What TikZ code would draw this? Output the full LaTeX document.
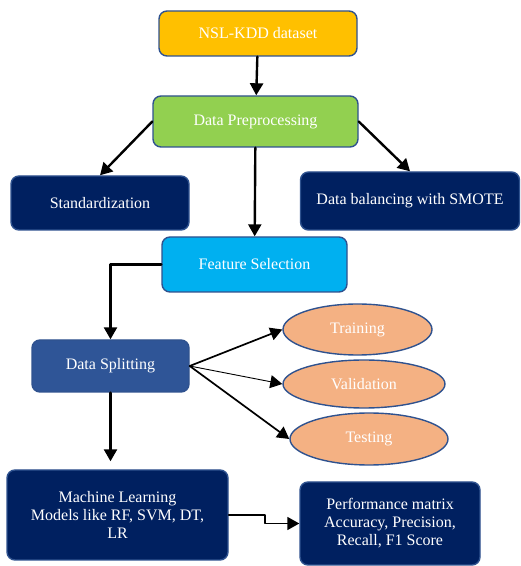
\documentclass[tikz,border=0pt]{standalone}
\usepackage{fontspec}
\setmainfont{Liberation Serif}
\usetikzlibrary{arrows.meta,shapes.geometric}
\definecolor{edgeblue}{HTML}{2F528F}
\definecolor{goldfill}{HTML}{FFC000}
\definecolor{greenfill}{HTML}{92D050}
\definecolor{skyfill}{HTML}{00B0F0}
\definecolor{navyfill}{HTML}{002060}
\definecolor{midblue}{HTML}{2F5597}
\definecolor{peachfill}{HTML}{F4B183}
\begin{document}
\begin{tikzpicture}[
					x=1pt, y=1pt,
					line cap=round,
					line join=round,
					>={Triangle[length=12pt,width=13pt]},
					box/.style={draw=edgeblue, line width=1.4pt, rounded corners=8pt,
						text=white, align=center, inner sep=0pt,
						font=\fontsize{16}{18}\selectfont},
					oval/.style={ellipse, draw=edgeblue, line width=1.4pt, fill=peachfill,
						text=white, inner sep=0pt, font=\fontsize{16}{18}\selectfont},
					arrow/.style={->, line width=2.4pt},
					thinarrow/.style={->, line width=1.7pt}
					]
					\useasboundingbox (0,0) rectangle (521,566);
					
					% Main column
					\node[box, fill=goldfill, minimum width=198, minimum height=45]
					(nsl) at (258,532.5) {NSL-KDD dataset};
					\node[box, fill=greenfill, minimum width=205, minimum height=51]
					(prep) at (255.5,444.5) {Data Preprocessing};
					\node[box, fill=skyfill, minimum width=185, minimum height=55]
					(feat) at (254.5,301.5) {Feature Selection};
					
					% Side boxes of preprocessing
					\node[box, fill=navyfill, minimum width=178, minimum height=54]
					(std) at (100,363) {Standardization};
					\node[box, fill=navyfill, minimum width=219, minimum height=58]
					(smote) at (410,365) {Data balancing with SMOTE};
					
					% Splitting
					\node[box, fill=midblue, minimum width=157, minimum height=52]
					(split) at (110.5,200) {Data Splitting};
					\node[oval, minimum width=149, minimum height=51]
					(train) at (357.5,236.5) {Training};
					\node[oval, minimum width=162, minimum height=48]
					(valid) at (364,182) {Validation};
					\node[oval, minimum width=158, minimum height=52]
					(test) at (369,127) {Testing};
					
					% Models and metrics
					\node[box, fill=navyfill, minimum width=221, minimum height=90]
					(models) at (117.5,51) {Machine Learning\\Models like RF, SVM, DT,\\LR};
					\node[box, fill=navyfill, minimum width=180, minimum height=83]
					(perf) at (390,42.5) {Performance matrix\\Accuracy, Precision,\\Recall, F1 Score};
					
					% Arrows
					\draw[arrow] (nsl) -- (prep);
					\draw[arrow] (prep.west) -- (std.north);
					\draw[arrow] (prep.east) -- (smote.north);
					\draw[arrow] (prep) -- (feat);
					\draw[arrow] (feat.west) -| (split.north);
					\draw[thinarrow] (split.east) -- (train.west);
					\draw[->, line width=0.9pt] (split.east) -- (valid.west);
					\draw[thinarrow] (split.east) -- (test.west);
					\draw[arrow, shorten >=8pt] (split.south) -- (split.south |- models.north);
					\draw[thinarrow] (models.east) -- ++(36,0) |- (perf.west);
					
				\end{tikzpicture}
\end{document}
